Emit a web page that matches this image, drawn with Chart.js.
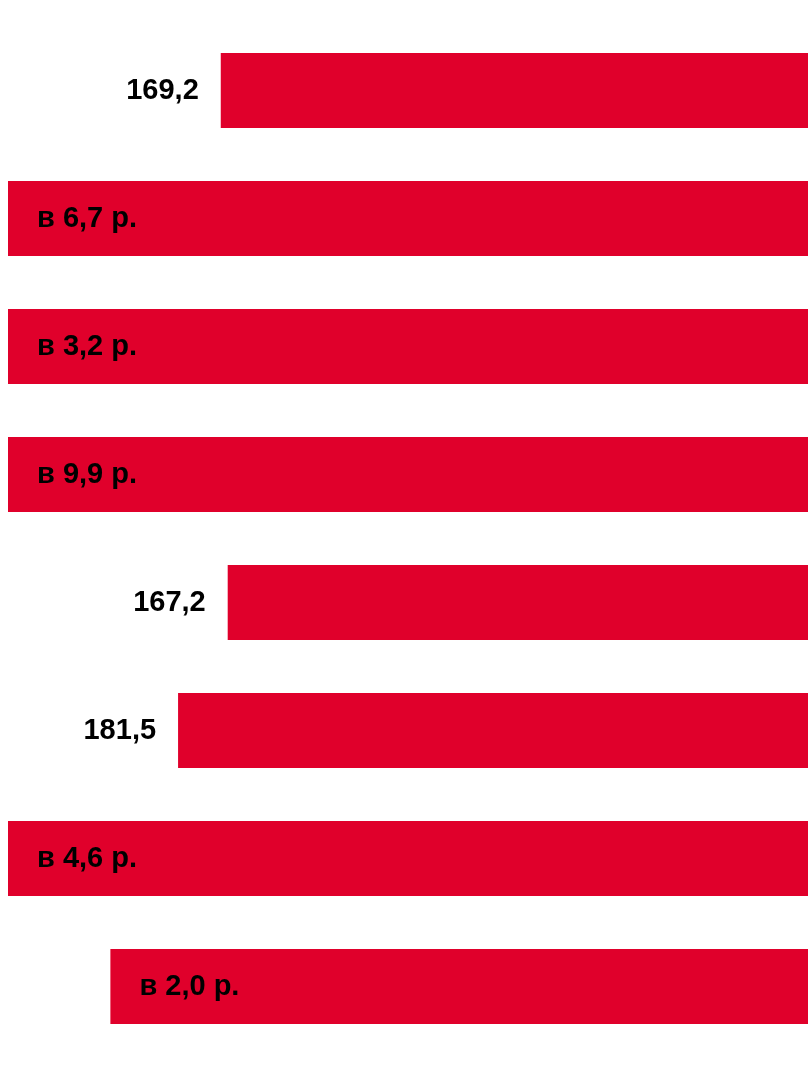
<!DOCTYPE html>
<html>
<head>
<meta charset="utf-8">
<script src="https://cdn.jsdelivr.net/npm/chart.js@4/dist/chart.umd.min.js"></script>
<style>
  html, body { margin: 0; padding: 0; background: #fff; }
  #wrap { width: 808px; height: 1075px; position: relative; }
</style>
</head>
<body>
<div id="wrap"><canvas id="myChart" width="808" height="1075"></canvas></div>
<script>
// values in % (ratios "в N р." stored as N*100)
const categories = ['1', '2', '3', '4', '5', '6', '7', '8'];
const values = [169.2, 670, 320, 990, 167.2, 181.5, 460, 201];
const valueLabels = ['169,2', 'в 6,7 р.', 'в 3,2 р.', 'в 9,9 р.', '167,2', '181,5', 'в 4,6 р.', 'в 2,0 р.'];

const barLabels = {
    id: 'barLabels',
    afterDatasetsDraw(chart) {
        const ctx = chart.ctx;
        const area = chart.chartArea;
        const meta = chart.getDatasetMeta(0);
        ctx.save();
        ctx.font = 'bold 29px "Liberation Sans", Arial, sans-serif';
        ctx.fillStyle = '#000';
        ctx.textBaseline = 'middle';
        meta.data.forEach((bar, i) => {
            let txt = valueLabels[i];
            let left = Math.max(bar.x, area.left);
            if (txt.startsWith('в')) {
                ctx.textAlign = 'left';
                ctx.fillText(txt, left + 29, bar.y);
            } else {
                ctx.textAlign = 'right';
                ctx.fillText(txt, left - 22, bar.y);
            }
        });
        ctx.restore();
    }
};

let ctx = document.getElementById('myChart').getContext('2d');
new Chart(ctx, {
    type: 'bar',
    data: {
        labels: categories,
        datasets: [{
            data: values,
            backgroundColor: '#E0002B',
            borderWidth: 0,
            categoryPercentage: 1,
            barPercentage: 0.586,
            clip: 0
        }]
    },
    options: {
        indexAxis: 'y',
        responsive: false,
        animation: false,
        devicePixelRatio: 1,
        layout: { padding: { top: 26.5, bottom: 24.5, left: 8, right: 0 } },
        plugins: { legend: { display: false }, tooltip: { enabled: false } },
        scales: {
            x: { display: false, reverse: true, min: 0, max: 230.5 },
            y: { display: false }
        }
    },
    plugins: [barLabels]
});
</script>
</body>
</html>
